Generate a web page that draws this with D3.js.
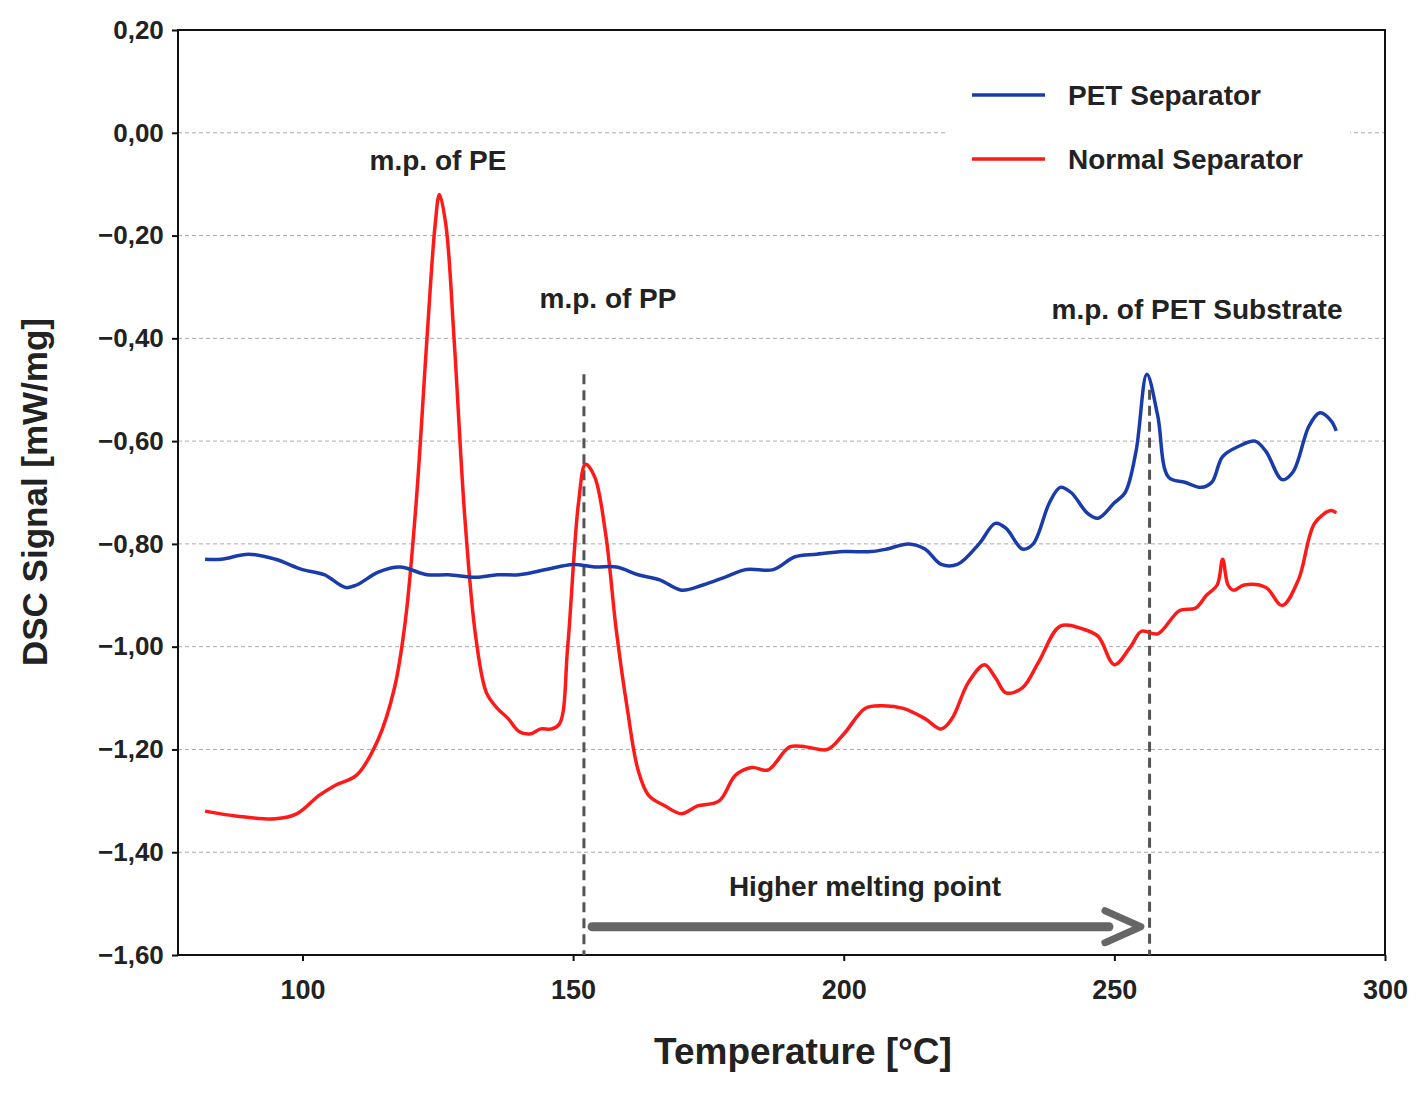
<!DOCTYPE html>
<html>
<head>
<meta charset="utf-8">
<script src="https://cdn.jsdelivr.net/npm/d3@7"></script>
<style>
body { margin:0; background:#fff; }
text { font-family: "Liberation Sans", Arial, sans-serif; font-weight:bold; fill:#222; }
</style>
</head>
<body>
<svg width="1424" height="1104"></svg>
<script>
// PET separator (temperature, signal)
var petT = [82,85,90,95,100,104,108,110,114,118,123,127,132,136,140,145,150,154,158,162,166,170,174,178,182,187,191,195,200,205,208,212,215,218,221,225,228,230,233,235,238,240,242,245,247,250,252,254,256,258,260,263,266,268,270,273,276,278,281,283,286,288,290,291];
var petY = [-0.83,-0.83,-0.82,-0.83,-0.85,-0.86,-0.885,-0.88,-0.855,-0.845,-0.86,-0.86,-0.865,-0.86,-0.86,-0.85,-0.84,-0.845,-0.845,-0.86,-0.87,-0.89,-0.88,-0.865,-0.85,-0.85,-0.825,-0.82,-0.815,-0.815,-0.81,-0.80,-0.81,-0.84,-0.84,-0.80,-0.76,-0.77,-0.81,-0.80,-0.72,-0.69,-0.70,-0.74,-0.75,-0.72,-0.70,-0.62,-0.47,-0.55,-0.67,-0.68,-0.69,-0.68,-0.63,-0.61,-0.60,-0.62,-0.675,-0.66,-0.57,-0.545,-0.56,-0.58];
// Normal separator
var norT = [82,88,95,99,103,106,110,114,117,119,121,123,124.5,125.3,126.5,128,130,132,134,136,138,140,142,144,146,147.5,149,151,152.3,154,156,158,160,162,164,167,170,173,177,180,183,186,190,193,197,200,204,207,211,215,218,220,223,226,228,230,233,236,240,244,247,250,253,255,258,262,265,267,269,270,271,272,274,278,281,284,287,290,291];
var norY = [-1.32,-1.33,-1.335,-1.325,-1.29,-1.27,-1.25,-1.18,-1.08,-0.95,-0.72,-0.40,-0.18,-0.12,-0.18,-0.40,-0.75,-0.98,-1.09,-1.12,-1.14,-1.165,-1.17,-1.16,-1.16,-1.15,-1.00,-0.72,-0.645,-0.67,-0.78,-0.97,-1.12,-1.24,-1.29,-1.31,-1.325,-1.31,-1.30,-1.25,-1.235,-1.24,-1.195,-1.195,-1.20,-1.17,-1.12,-1.115,-1.12,-1.14,-1.16,-1.14,-1.07,-1.035,-1.06,-1.09,-1.08,-1.03,-0.96,-0.965,-0.98,-1.035,-1.00,-0.97,-0.975,-0.93,-0.925,-0.90,-0.88,-0.83,-0.88,-0.89,-0.88,-0.885,-0.92,-0.87,-0.76,-0.735,-0.74];
var xTicks = [100,150,200,250,300];
var yTicks = [0.2,0,-0.2,-0.4,-0.6,-0.8,-1.0,-1.2,-1.4,-1.6];
var meltT = [152, 256.5];
var meltTop = [-0.47, -0.50];

var svg = d3.select("svg");
var pL = 178, pR = 1385, pT = 30, pB = 955;
var x = d3.scaleLinear().domain([77, 300]).range([pL, pR]);
var y = d3.scaleLinear().domain([-1.6, 0.2]).range([pB, pT]);
var fmt = function(v){ return d3.format(".2f")(v).replace(".", ","); };

// grid
svg.selectAll(".grid").data(yTicks.slice(1, -1)).enter().append("line")
  .attr("x1", pL).attr("x2", pR)
  .attr("y1", function(d){ return y(d); }).attr("y2", function(d){ return y(d); })
  .attr("stroke", "#aaa").attr("stroke-dasharray", "4,3").attr("stroke-width", 1);

// legend background
svg.append("rect").attr("x", 945).attr("y", 70).attr("width", 405).attr("height", 110).attr("fill", "#fff");

svg.append("rect").attr("x", pL).attr("y", pT).attr("width", pR-pL).attr("height", pB-pT)
  .attr("fill", "none").attr("stroke", "#111").attr("stroke-width", 2);

var xAxis = svg.append("g").attr("transform", "translate(0," + pB + ")")
  .call(d3.axisBottom(x).tickValues(xTicks).tickSize(6).tickFormat(d3.format("d")));
xAxis.selectAll("text").attr("font-size", 27).attr("dy", "1.3em");
var yAxis = svg.append("g").attr("transform", "translate(" + pL + ",0)")
  .call(d3.axisLeft(y).tickValues(yTicks).tickSize(6).tickFormat(fmt));
yAxis.selectAll("text").attr("font-size", 26).attr("dx", "-0.2em");
svg.selectAll(".domain").remove();
svg.selectAll(".tick line").attr("stroke", "#111").attr("stroke-width", 2);

// melting point markers
meltT.forEach(function(t, i){
  svg.append("line").attr("x1", x(t)).attr("x2", x(t)).attr("y1", y(meltTop[i])).attr("y2", pB)
    .attr("stroke", "#555").attr("stroke-width", 3).attr("stroke-dasharray", "10,6");
});

var line = d3.line().x(function(d){ return x(d[0]); }).y(function(d){ return y(d[1]); }).curve(d3.curveCatmullRom);
svg.append("path").datum(norT.map(function(t, i){ return [t, norY[i]]; }))
  .attr("d", line).attr("fill", "none").attr("stroke", "#ff1a1a").attr("stroke-width", 3.5);
svg.append("path").datum(petT.map(function(t, i){ return [t, petY[i]]; }))
  .attr("d", line).attr("fill", "none").attr("stroke", "#1a3caa").attr("stroke-width", 3.5);

// arrow
var ay = y(-1.545);
svg.append("line").attr("x1", x(153.5)).attr("x2", x(249)).attr("y1", ay).attr("y2", ay)
  .attr("stroke", "#666").attr("stroke-width", 9).attr("stroke-linecap", "round");
svg.append("path").attr("d", "M" + (x(249)-4) + "," + (ay-16) + " L" + (x(256)-6) + "," + ay + " L" + (x(249)-4) + "," + (ay+16))
  .attr("fill", "none").attr("stroke", "#666").attr("stroke-width", 7).attr("stroke-linejoin", "round").attr("stroke-linecap", "round");

// annotations
var notes = [["m.p. of PE", 438, 170], ["m.p. of PP", 608, 308], ["m.p. of PET Substrate", 1197, 319], ["Higher melting point", 865, 896]];
svg.selectAll(".note").data(notes).enter().append("text")
  .attr("x", function(d){ return d[1]; }).attr("y", function(d){ return d[2]; })
  .attr("text-anchor", "middle").attr("font-size", 28).text(function(d){ return d[0]; });

// legend
var leg = [["PET Separator", "#1a3caa", 95], ["Normal Separator", "#ff1a1a", 159]];
leg.forEach(function(l){
  svg.append("line").attr("x1", 972).attr("x2", 1045).attr("y1", l[2]).attr("y2", l[2]).attr("stroke", l[1]).attr("stroke-width", 3.5);
  svg.append("text").attr("x", 1068).attr("y", l[2] + 10).attr("font-size", 28).text(l[0]);
});

// axis titles
svg.append("text").attr("x", 803).attr("y", 1064).attr("text-anchor", "middle").attr("font-size", 37).text("Temperature [°C]");
svg.append("text").attr("transform", "translate(47,492) rotate(-90)").attr("text-anchor", "middle").attr("font-size", 35).text("DSC Signal [mW/mg]");
</script>
</body>
</html>
